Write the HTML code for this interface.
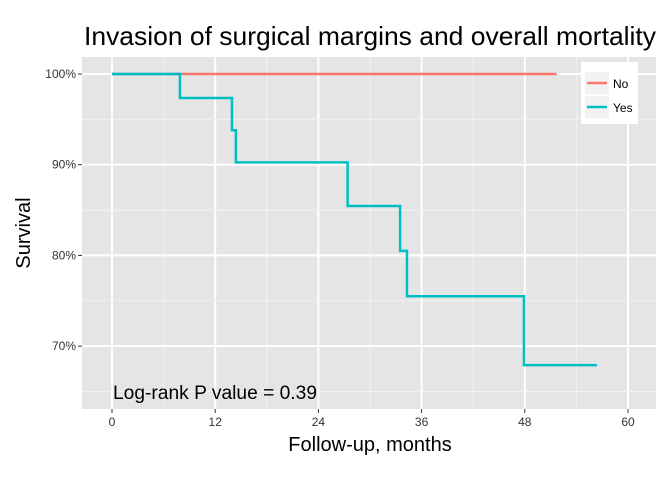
<!DOCTYPE html>
<html><head><meta charset="utf-8"><style>
body{margin:0;background:#fff;font-family:"Liberation Sans",sans-serif}
</style></head><body>
<svg id="chart" width="672" height="480" xmlns="http://www.w3.org/2000/svg" font-family="Liberation Sans, sans-serif">
<rect width="672" height="480" fill="#fff"/>
<text x="370" y="45" font-size="26" text-anchor="middle" textLength="572" lengthAdjust="spacingAndGlyphs" fill="#000">Invasion of surgical margins and overall mortality</text>
<rect x="82" y="57" width="574" height="352" fill="#e5e5e5"/>
<g id="grid"></g>
<g id="series"></g>
<g id="axes"></g>
<text x="370" y="451" font-size="20" text-anchor="middle">Follow-up, months</text>
<text transform="translate(30,233) rotate(-90)" font-size="20" text-anchor="middle">Survival</text>
<text x="113" y="399" font-size="19" textLength="204" lengthAdjust="spacingAndGlyphs">Log-rank P value = 0.39</text>
<g>
<rect x="581" y="62" width="57" height="62" fill="#fff"/>
<rect x="585" y="72" width="24" height="22" fill="#f2f2f2"/>
<line x1="587" y1="83" x2="607" y2="83" stroke="#F8766D" stroke-width="2.5"/>
<text x="613" y="88" font-size="12">No</text>
<rect x="585" y="96" width="24" height="22" fill="#f2f2f2"/>
<line x1="587" y1="107" x2="607" y2="107" stroke="#00BFC4" stroke-width="2.5"/>
<text x="613" y="112" font-size="12">Yes</text>
</g>
</svg>
<script>
const xTicks=[0,12,24,36,48,60];
const yTicks=[70,80,90,100];
const noTimes=[0,51.7];
const noSurv=[100,100];
const yesTimes=[0,7.9,13.95,14.4,27.4,33.5,34.3,47.9,56.4];
const yesSurv=[100,97.35,93.8,90.25,85.45,80.5,75.5,67.9,67.9];
const X=t=>112+t*(516/60);
const Y=s=>74+(100-s)*9.07;
const NS="http://www.w3.org/2000/svg";
function mk(tag,attrs,parent){const e=document.createElementNS(NS,tag);for(const k in attrs)e.setAttribute(k,attrs[k]);parent.appendChild(e);return e;}
const grid=document.getElementById('grid'),axes=document.getElementById('axes'),series=document.getElementById('series');
for(let i=0;i<xTicks.length;i++){
  const t=xTicks[i];
  const mn=t+6;
  if(X(mn)<656){const m=mk('line',{x1:X(mn),x2:X(mn),y1:57,y2:409,stroke:'#f2f2f2','stroke-width':1},grid);
  
  }
  if(i===0&&X(t-6)>82){const m=mk('line',{x1:X(t-6),x2:X(t-6),y1:57,y2:409,stroke:'#f2f2f2','stroke-width':1},grid);
  
  }
  const g=mk('line',{x1:X(t),x2:X(t),y1:57,y2:409,stroke:'#fff','stroke-width':2},grid);
  
  
  mk('line',{x1:X(t),x2:X(t),y1:409,y2:413,stroke:'#333'},axes);
  const l=mk('text',{x:X(t),y:426,'font-size':12,'text-anchor':'middle',fill:'#333'},axes);
  l.textContent=t;
  
  
}
for(const s of yTicks){
  const mn=s-5;
  if(Y(mn)<409){const m=mk('line',{x1:82,x2:656,y1:Y(mn),y2:Y(mn),stroke:'#f2f2f2','stroke-width':1},grid);
  
  }
  const g=mk('line',{x1:82,x2:656,y1:Y(s),y2:Y(s),stroke:'#fff','stroke-width':2},grid);
  
  
  mk('line',{x1:78,x2:82,y1:Y(s),y2:Y(s),stroke:'#333'},axes);
  const l=mk('text',{x:76,y:Y(s)+4,'font-size':12,'text-anchor':'end',fill:'#333'},axes);
  l.textContent=s+'%';
  
  
}
function step(ts,ss){let d='M'+X(ts[0])+','+Y(ss[0]);for(let i=1;i<ts.length;i++){d+=' H'+X(ts[i])+' V'+Y(ss[i]);}return d;}
const pn=mk('path',{d:step(noTimes,noSurv),fill:'none',stroke:'#F8766D','stroke-width':2.5},series);


const py=mk('path',{d:step(yesTimes,yesSurv),fill:'none',stroke:'#00BFC4','stroke-width':2.5},series);


</script>
</body></html>
